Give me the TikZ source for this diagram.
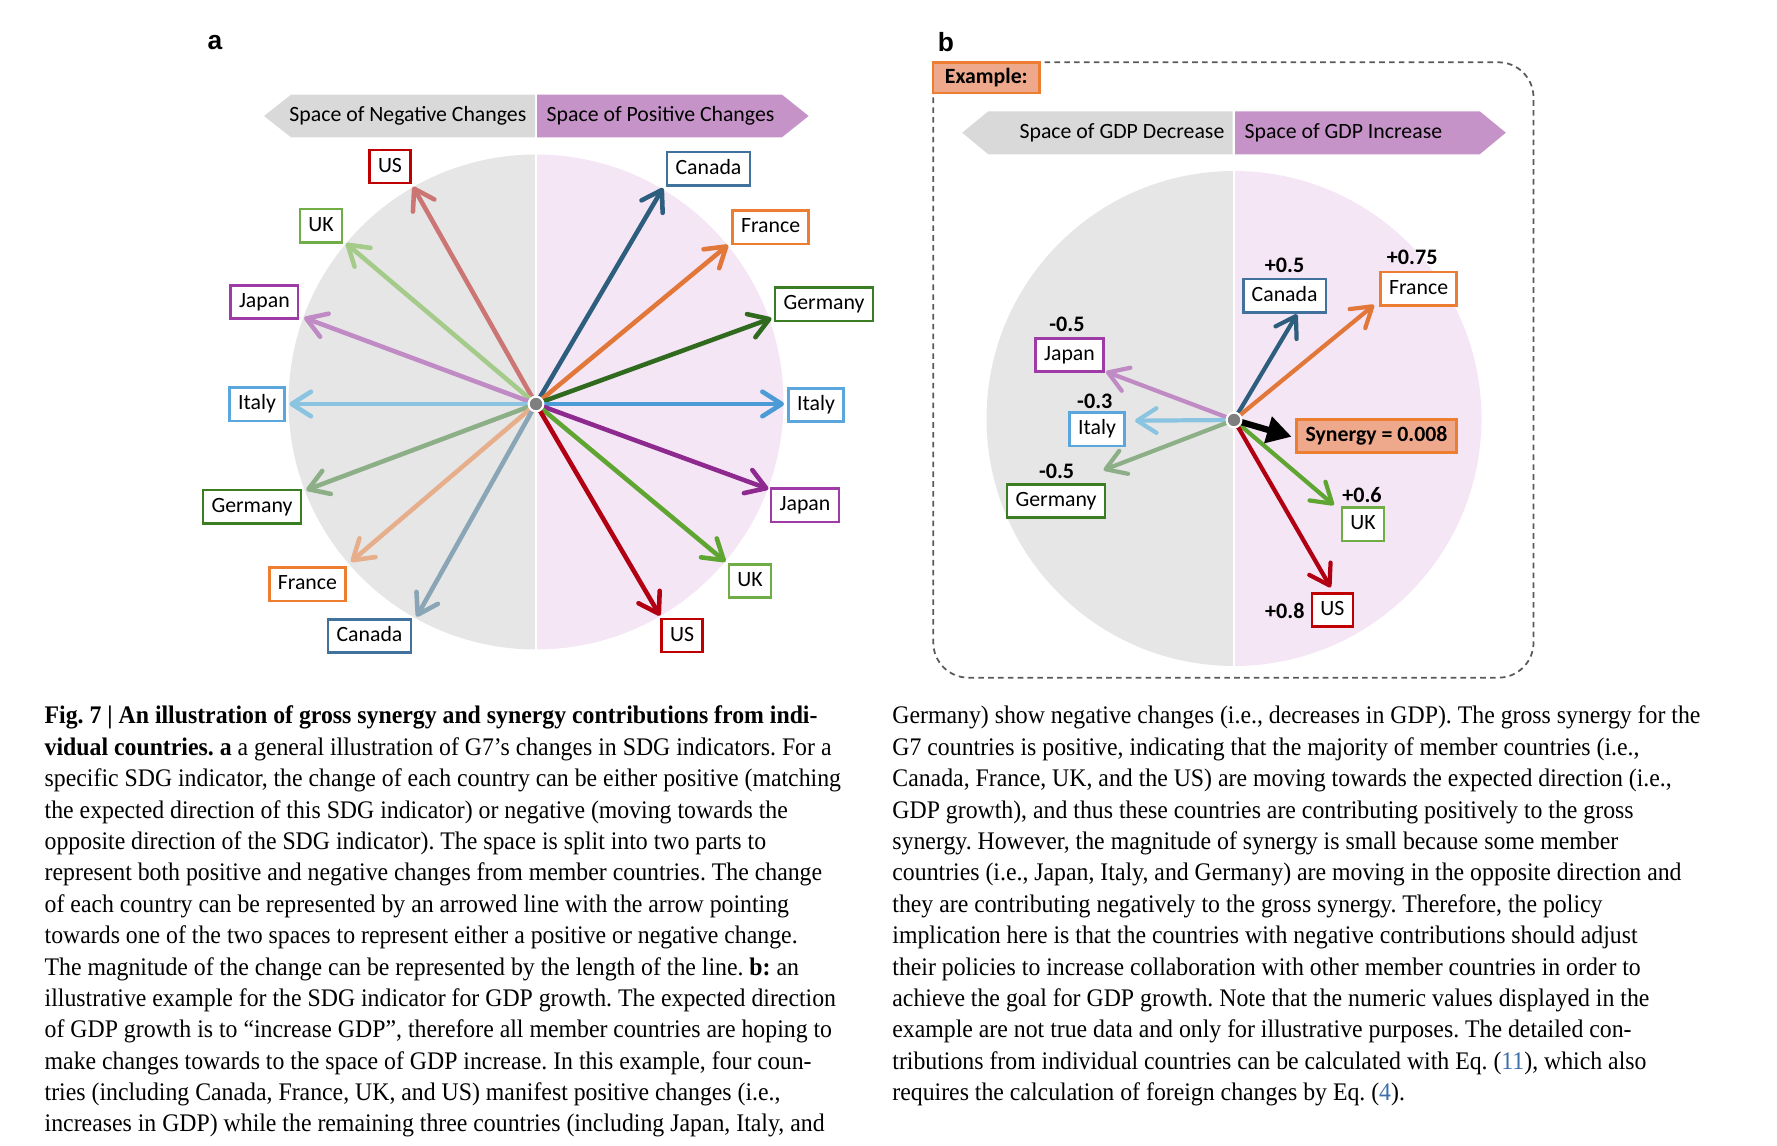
\documentclass[tikz,border=0pt]{standalone}
\usepackage{fontspec}
\usepackage{tikz}
\usetikzlibrary{arrows.meta}
\newfontfamily\lblfont{Carlito}
\newfontfamily\tagfont{Liberation Sans}
\newfontfamily\capfont[FakeStretch=0.94]{Liberation Serif}
% label borders / dark arrows / light arrows
\definecolor{cCan}{HTML}{41719C}\definecolor{cCanD}{HTML}{2E5E7E}\definecolor{cCanL}{HTML}{8AA5B5}
\definecolor{cFra}{HTML}{ED7D31}\definecolor{cFraD}{HTML}{E2773A}\definecolor{cFraL}{HTML}{E6AE8B}
\definecolor{cGer}{HTML}{3B7D23}\definecolor{cGerD}{HTML}{2F6A1F}\definecolor{cGerL}{HTML}{8CAF88}
\definecolor{cIta}{HTML}{5BA7DD}\definecolor{cItaD}{HTML}{4A9BD6}\definecolor{cItaL}{HTML}{8BC4E0}
\definecolor{cJap}{HTML}{9E3BA6}\definecolor{cJapD}{HTML}{8E2A8F}\definecolor{cJapL}{HTML}{C08BC4}
\definecolor{cUK}{HTML}{70AD47}\definecolor{cUKD}{HTML}{5FA532}\definecolor{cUKL}{HTML}{A5CB8A}
\definecolor{cUS}{HTML}{C00000}\definecolor{cUSD}{HTML}{B00012}\definecolor{cUSL}{HTML}{CC7575}
\definecolor{cNeg}{HTML}{E6E6E6}\definecolor{cPos}{HTML}{F5E6F5}
\definecolor{cBanG}{HTML}{D9D9D9}\definecolor{cBanP}{HTML}{C593C7}
\definecolor{cSal}{HTML}{EEA98D}\definecolor{cOrg}{HTML}{ED7D31}
\definecolor{cDot}{HTML}{7F7F7F}\definecolor{cDash}{HTML}{595959}\definecolor{cRef}{HTML}{3C6EAA}
\tikzset{
  lbl/.style={draw=#1,fill=white,line width=0.7pt,font=\lblfont\fontsize{6.2}{7}\selectfont,
    inner xsep=2.4pt,inner ysep=1.75pt,text height=4.6pt,text depth=1.4pt},
  vec/.style={draw=#1,line width=1.3pt,line cap=round,-{Straight Barb[round,length=5.5pt,width=7pt]}},
  val/.style={font=\lblfont\bfseries\fontsize{6.3}{7}\selectfont,inner sep=0pt},
  ban/.style={font=\lblfont\fontsize{6.2}{7}\selectfont,inner sep=0pt},
  orgbox/.style={draw=cOrg,fill=cSal,line width=0.7pt,font=\lblfont\bfseries\fontsize{6.2}{7}\selectfont},
  cdot/.style={circle,fill=cDot,draw=white,line width=0.6pt,inner sep=0pt,minimum size=4.2pt},
  paneltag/.style={font=\tagfont\bfseries\fontsize{7.5}{9}\selectfont,inner sep=0pt},
  captxt/.style={font=\capfont\frenchspacing\fontsize{7.2}{8.93}\selectfont,align=left,inner sep=0pt,anchor=north west},
}
\begin{document}
\begin{tikzpicture}[x=0.1mm,y=-0.1mm]
\useasboundingbox (0,0) rectangle (1777,1146);
%%% panel a
\node[paneltag] (tagA) at (215,43) {a};
\begin{scope}
\clip (0,0) rectangle (536,1146);
\fill[cNeg] (536,402) circle[radius=24.75mm];
\end{scope}
\begin{scope}
\clip (536,0) rectangle (900,1146);
\fill[cPos] (536,402) circle[radius=24.75mm];
\end{scope}
\draw[white,line width=0.8pt] (536,150) -- (536,655);
%banners
\fill[cBanG] (264,116) -- (291,94.7) -- (535,94.7) -- (535,137.3) -- (291,137.3) -- cycle;
\fill[cBanP] (537,94.7) -- (782,94.7) -- (808.6,116) -- (782,137.3) -- (537,137.3) -- cycle;
\node[ban,anchor=east] (negA) at (527,116) {Space of Negative Changes};
\node[ban,anchor=west] (posA) at (546,116) {Space of Positive Changes};
%arrows
\coordinate (oA) at (536,404);
\foreach \nm/\col/\bc/\txt/\tp/\lp in {
  CanR/cCanD/cCan/Canada/{663,188}/{708.5,168.7},
  FraR/cFraD/cFra/France/{728,245}/{770.6,227.3},
  GerR/cGerD/cGer/Germany/{771.5,318.3}/{824,304.3},
  ItaR/cItaD/cIta/Italy/{784,404}/{816,405},
  JapR/cJapD/cJap/Japan/{768.4,489}/{805,505.3},
  UKR/cUKD/cUK/UK/{725.5,561.7}/{750,581},
  USR/cUSD/cUS/US/{660,615.7}/{682,635.5},
  USL/cUSL/cUS/US/{413,186.7}/{390,166.5},
  UKL/cUKL/cUK/UK/{346,243.3}/{321,225.7},
  JapL/cJapL/cJap/Japan/{304.1,317.7}/{264.4,302},
  ItaL/cItaL/cIta/Italy/{289.4,404}/{257,404.3},
  GerL/cGerL/cGer/Germany/{306.3,490}/{252,506.7},
  FraL/cFraL/cFra/France/{351,561.7}/{307.4,584.3},
  CanL/cCanL/cCan/Canada/{416.6,616.7}/{369.5,636}}
{
\node[lbl=\bc] (l\nm) at (\lp) {\txt};
\coordinate (t\nm) at (\tp);
\draw[vec=\col] (oA) -- (t\nm);
}
\node[cdot] (dotA) at (oA) {};
%%% panel b
\node[paneltag] (tagB) at (946,42) {b};
\draw[cDash,line width=0.5pt,dash pattern=on 1.6pt off 1.2pt,rounded corners=10pt] (933.3,62.3) rectangle (1533.5,677.7);
\node[orgbox,minimum width=30.2pt,minimum height=8.8pt,inner sep=0pt] (exB) at (986.3,77.8) {Example:};
\begin{scope}
\clip (900,0) rectangle (1234,1146);
\fill[cNeg] (1234,418.5) circle[radius=24.75mm];
\end{scope}
\begin{scope}
\clip (1234,0) rectangle (1600,1146);
\fill[cPos] (1234,418.5) circle[radius=24.75mm];
\end{scope}
\draw[white,line width=0.8pt] (1234,168) -- (1234,670);
%banners
\fill[cBanG] (962.2,132.7) -- (988.3,111.3) -- (1232.6,111.3) -- (1232.6,154.3) -- (988.3,154.3) -- cycle;
\fill[cBanP] (1235,111.3) -- (1479.7,111.3) -- (1505.8,132.7) -- (1479.7,154.3) -- (1235,154.3) -- cycle;
\node[ban,anchor=east] (negB) at (1225,132.7) {Space of GDP Decrease};
\node[ban,anchor=west] (posB) at (1244,132.7) {Space of GDP Increase};
%arrows
\coordinate (oB) at (1234,420);
\foreach \nm/\col/\bc/\txt/\tp/\lp/\v/\vp in {
  CanB/cCanD/cCan/Canada/{1297,314.3}/{1284.6,295.8}/+0.5/{1284.6,265},
  FraB/cFraD/cFra/France/{1374,305}/{1418.6,288.7}/+0.75/{1412.2,257.7},
  JapB/cJapL/cJap/Japan/{1106,371.7}/{1069.5,355}/-0.5/{1067,324},
  ItaB/cItaL/cIta/Italy/{1135,420.7}/{1097,429.3}/-0.3/{1094.8,401},
  GerB/cGerL/cGer/Germany/{1103.6,470}/{1056,501}/-0.5/{1056.6,471.7},
  UKB/cUKD/cUK/UK/{1333.8,505}/{1363,524.3}/+0.6/{1362,495},
  USB/cUSD/cUS/US/{1330.6,587.3}/{1332.4,610}/+0.8/{1284.8,611}}
{
\node[lbl=\bc] (l\nm) at (\lp) {\txt};
\node[val] (v\nm) at (\vp) {\v};
\coordinate (t\nm) at (\tp);
\draw[vec=\col,line width=1.2pt] (oB) -- (t\nm);
}
\node[orgbox,minimum width=45.5pt,minimum height=9.5pt,inner sep=0pt] (synB) at (1376.5,436) {Synergy = 0.008};
\coordinate (tSyn) at (1291.6,436.7);
\draw[line width=1.8pt,-{Triangle[length=7pt,width=7.5pt]}] (oB) -- (tSyn);
\node[cdot] (dotB) at (oB) {};
%%% caption
\node[captxt] (capL) at (44,701.3) {\strut\textbf{Fig. 7 | An illustration of gross synergy and synergy contributions from indi-}\\
\textbf{vidual countries. a} a general illustration of G7’s changes in SDG indicators. For a\\
specific SDG indicator, the change of each country can be either positive (matching\\
the expected direction of this SDG indicator) or negative (moving towards the\\
opposite direction of the SDG indicator). The space is split into two parts to\\
represent both positive and negative changes from member countries. The change\\
of each country can be represented by an arrowed line with the arrow pointing\\
towards one of the two spaces to represent either a positive or negative change.\\
The magnitude of the change can be represented by the length of the line. \textbf{b:} an\\
illustrative example for the SDG indicator for GDP growth. The expected direction\\
of GDP growth is to “increase GDP”, therefore all member countries are hoping to\\
make changes towards to the space of GDP increase. In this example, four coun-\\
tries (including Canada, France, UK, and US) manifest positive changes (i.e.,\\
increases in GDP) while the remaining three countries (including Japan, Italy, and};
\node[captxt] (capR) at (891.7,701.3) {\strut Germany) show negative changes (i.e., decreases in GDP). The gross synergy for the\\
G7 countries is positive, indicating that the majority of member countries (i.e.,\\
Canada, France, UK, and the US) are moving towards the expected direction (i.e.,\\
GDP growth), and thus these countries are contributing positively to the gross\\
synergy. However, the magnitude of synergy is small because some member\\
countries (i.e., Japan, Italy, and Germany) are moving in the opposite direction and\\
they are contributing negatively to the gross synergy. Therefore, the policy\\
implication here is that the countries with negative contributions should adjust\\
their policies to increase collaboration with other member countries in order to\\
achieve the goal for GDP growth. Note that the numeric values displayed in the\\
example are not true data and only for illustrative purposes. The detailed con-\\
tributions from individual countries can be calculated with Eq. (\textcolor{cRef}{11}), which also\\
requires the calculation of foreign changes by Eq. (\textcolor{cRef}{4}).};
\end{tikzpicture}
\end{document}
